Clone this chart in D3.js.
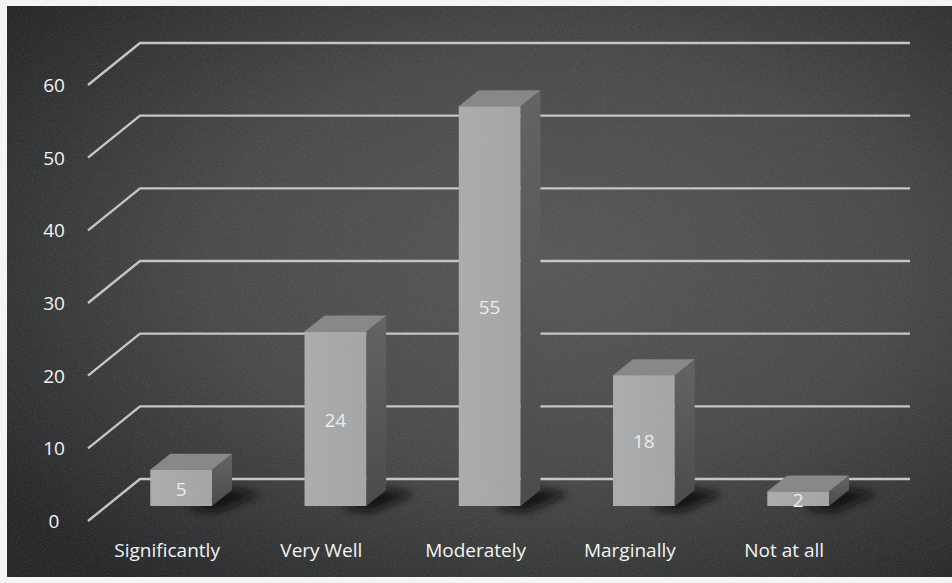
<!DOCTYPE html>
<html><head><meta charset="utf-8">
<script src="https://cdn.jsdelivr.net/npm/d3@7"></script>
<style>html,body{margin:0;padding:0;background:#fff;overflow:hidden}svg{display:block}</style>
</head><body>
<svg id="c" width="952" height="583"></svg>
<script>
// ---- data ----
const categories = ["Significantly", "Very Well", "Moderately", "Marginally", "Not at all"];
const values = [5, 24, 55, 18, 2];
const tickValues = [0, 10, 20, 30, 40, 50, 60];

(function () {
// ---- setup ----
const svg = d3.select("#c");
const W = 952, H = 583;
const FONT = "'Open Sans', Lato, sans-serif";
const defs = svg.append("defs");

const bg = defs.append("radialGradient").attr("id", "bg").attr("cx", "58%").attr("cy", "45%").attr("r", "72%");
bg.append("stop").attr("offset", "0%").attr("stop-color", "#565855");
bg.append("stop").attr("offset", "50%").attr("stop-color", "#494b49");
bg.append("stop").attr("offset", "100%").attr("stop-color", "#252628");

const noise = defs.append("filter").attr("id", "noise").attr("x", 0).attr("y", 0).attr("width", "100%").attr("height", "100%");
noise.append("feTurbulence").attr("type", "fractalNoise").attr("baseFrequency", 0.9).attr("numOctaves", 2).attr("seed", 3).attr("result", "t");
noise.append("feColorMatrix").attr("in", "t").attr("type", "matrix")
  .attr("values", "0 0 0 0 0.5  0 0 0 0 0.5  0 0 0 0 0.5  0 0 0 0.9 -0.35").attr("result", "n");
noise.append("feComposite").attr("in", "n").attr("in2", "SourceGraphic").attr("operator", "in");

const blur = defs.append("filter").attr("id", "blur").attr("x", "-50%").attr("y", "-50%").attr("width", "200%").attr("height", "200%");
blur.append("feGaussianBlur").attr("stdDeviation", 4);

const sideGrad = defs.append("linearGradient").attr("id", "side").attr("x1", 0).attr("y1", 0).attr("x2", 0).attr("y2", 1);
sideGrad.append("stop").attr("offset", "0%").attr("stop-color", "#636565");
sideGrad.append("stop").attr("offset", "100%").attr("stop-color", "#4a4b4b");

const frontGrad = defs.append("linearGradient").attr("id", "front").attr("x1", 0).attr("y1", 0).attr("x2", 1).attr("y2", 0);
frontGrad.append("stop").attr("offset", "0%").attr("stop-color", "#abacad");
frontGrad.append("stop").attr("offset", "100%").attr("stop-color", "#a4a5a6");

// background plate with white margins
svg.append("rect").attr("width", W).attr("height", H).attr("fill", "#f4f4f4");
svg.append("rect").attr("x", 7).attr("y", 6).attr("width", W - 7).attr("height", 571).attr("fill", "url(#bg)");
svg.append("rect").attr("x", 7).attr("y", 6).attr("width", W - 7).attr("height", 571).attr("fill", "#888").attr("filter", "url(#noise)").attr("opacity", 0.3);

// ---- scales ----
const y = d3.scaleLinear().domain([0, 60]).range([521, 85]);
const x = d3.scaleBand().domain(categories).range([104, 875.25]).paddingInner(0.6).paddingOuter(0.3);

const WALL_DX = 52, WALL_DY = -42;   // front axis -> back wall
const WALL_X0 = 88, WALL_X1 = 910;
const BAR_DY = -15;                   // bar front face vs front axis plane
const DEP_X = 20, DEP_Y = -16;        // bar depth

// ---- gridlines ----
const grid = svg.append("g").attr("fill", "none").attr("stroke", "#c4c6c4").attr("stroke-width", 2.4).attr("stroke-linejoin", "round");
grid.selectAll("path").data(tickValues).join("path")
  .attr("d", v => `M${WALL_X0},${y(v)} L${WALL_X0 + WALL_DX},${y(v) + WALL_DY} L${WALL_X1},${y(v) + WALL_DY}`);

// tick labels
svg.append("g").selectAll("text").data(tickValues).join("text")
  .attr("x", 54).attr("y", v => y(v)).attr("dy", "0.36em")
  .attr("text-anchor", "middle").attr("fill", "#f4f4f4")
  .attr("font-family", FONT).attr("font-size", 19).attr("font-weight", 500)
  .text(d => d);

// ---- bars ----
const data = categories.map((c, i) => ({ c, v: values[i] }));
const bars = svg.append("g").selectAll("g").data(data).join("g");

const base = y(0) + BAR_DY;
const bw = x.bandwidth();
const barTop = d => y(d.v) + BAR_DY;

// shadow
bars.append("path")
  .attr("d", d => {
    const x1 = x(d.c) + bw;
    return `M${x1 - 25},${base + 3} L${x1 + DEP_X - 4},${base + DEP_Y - 2} L${x1 + DEP_X + 28},${base + DEP_Y + 4} L${x1 + 6},${base + 6} Z`;
  })
  .attr("fill", "#0c0c0c").attr("opacity", 0.85).attr("filter", "url(#blur)");

// side face
bars.append("path")
  .attr("d", d => {
    const x1 = x(d.c) + bw;
    return `M${x1},${barTop(d)} L${x1 + DEP_X},${barTop(d) + DEP_Y} L${x1 + DEP_X},${base + DEP_Y} L${x1},${base} Z`;
  })
  .attr("fill", "url(#side)");

// top face
bars.append("path")
  .attr("d", d => {
    const x0 = x(d.c), x1 = x0 + bw;
    return `M${x0},${barTop(d)} L${x0 + DEP_X},${barTop(d) + DEP_Y} L${x1 + DEP_X},${barTop(d) + DEP_Y} L${x1},${barTop(d)} Z`;
  })
  .attr("fill", "#878888");

// front face
bars.append("rect")
  .attr("x", d => x(d.c)).attr("y", d => barTop(d))
  .attr("width", bw).attr("height", d => base - barTop(d))
  .attr("fill", "url(#front)");

// texture over bars
bars.append("rect")
  .attr("x", d => x(d.c)).attr("y", d => barTop(d))
  .attr("width", bw).attr("height", d => base - barTop(d))
  .attr("fill", "#888").attr("filter", "url(#noise)").attr("opacity", 0.25);

// value labels
bars.append("text")
  .attr("x", d => x(d.c) + bw / 2)
  .attr("y", d => (barTop(d) + base) / 2 + 1).attr("dy", "0.36em")
  .attr("text-anchor", "middle").attr("fill", "#ededed")
  .attr("font-family", FONT).attr("font-size", 19)
  .text(d => d.v);

// category labels
svg.append("g").selectAll("text").data(categories).join("text")
  .attr("x", c => x(c) + bw / 2 - 14).attr("y", 557)
  .attr("text-anchor", "middle").attr("fill", "#f4f4f4")
  .attr("font-family", FONT).attr("font-size", 19).attr("font-weight", 500)
  .text(c => c);
})();
</script>
</body></html>
